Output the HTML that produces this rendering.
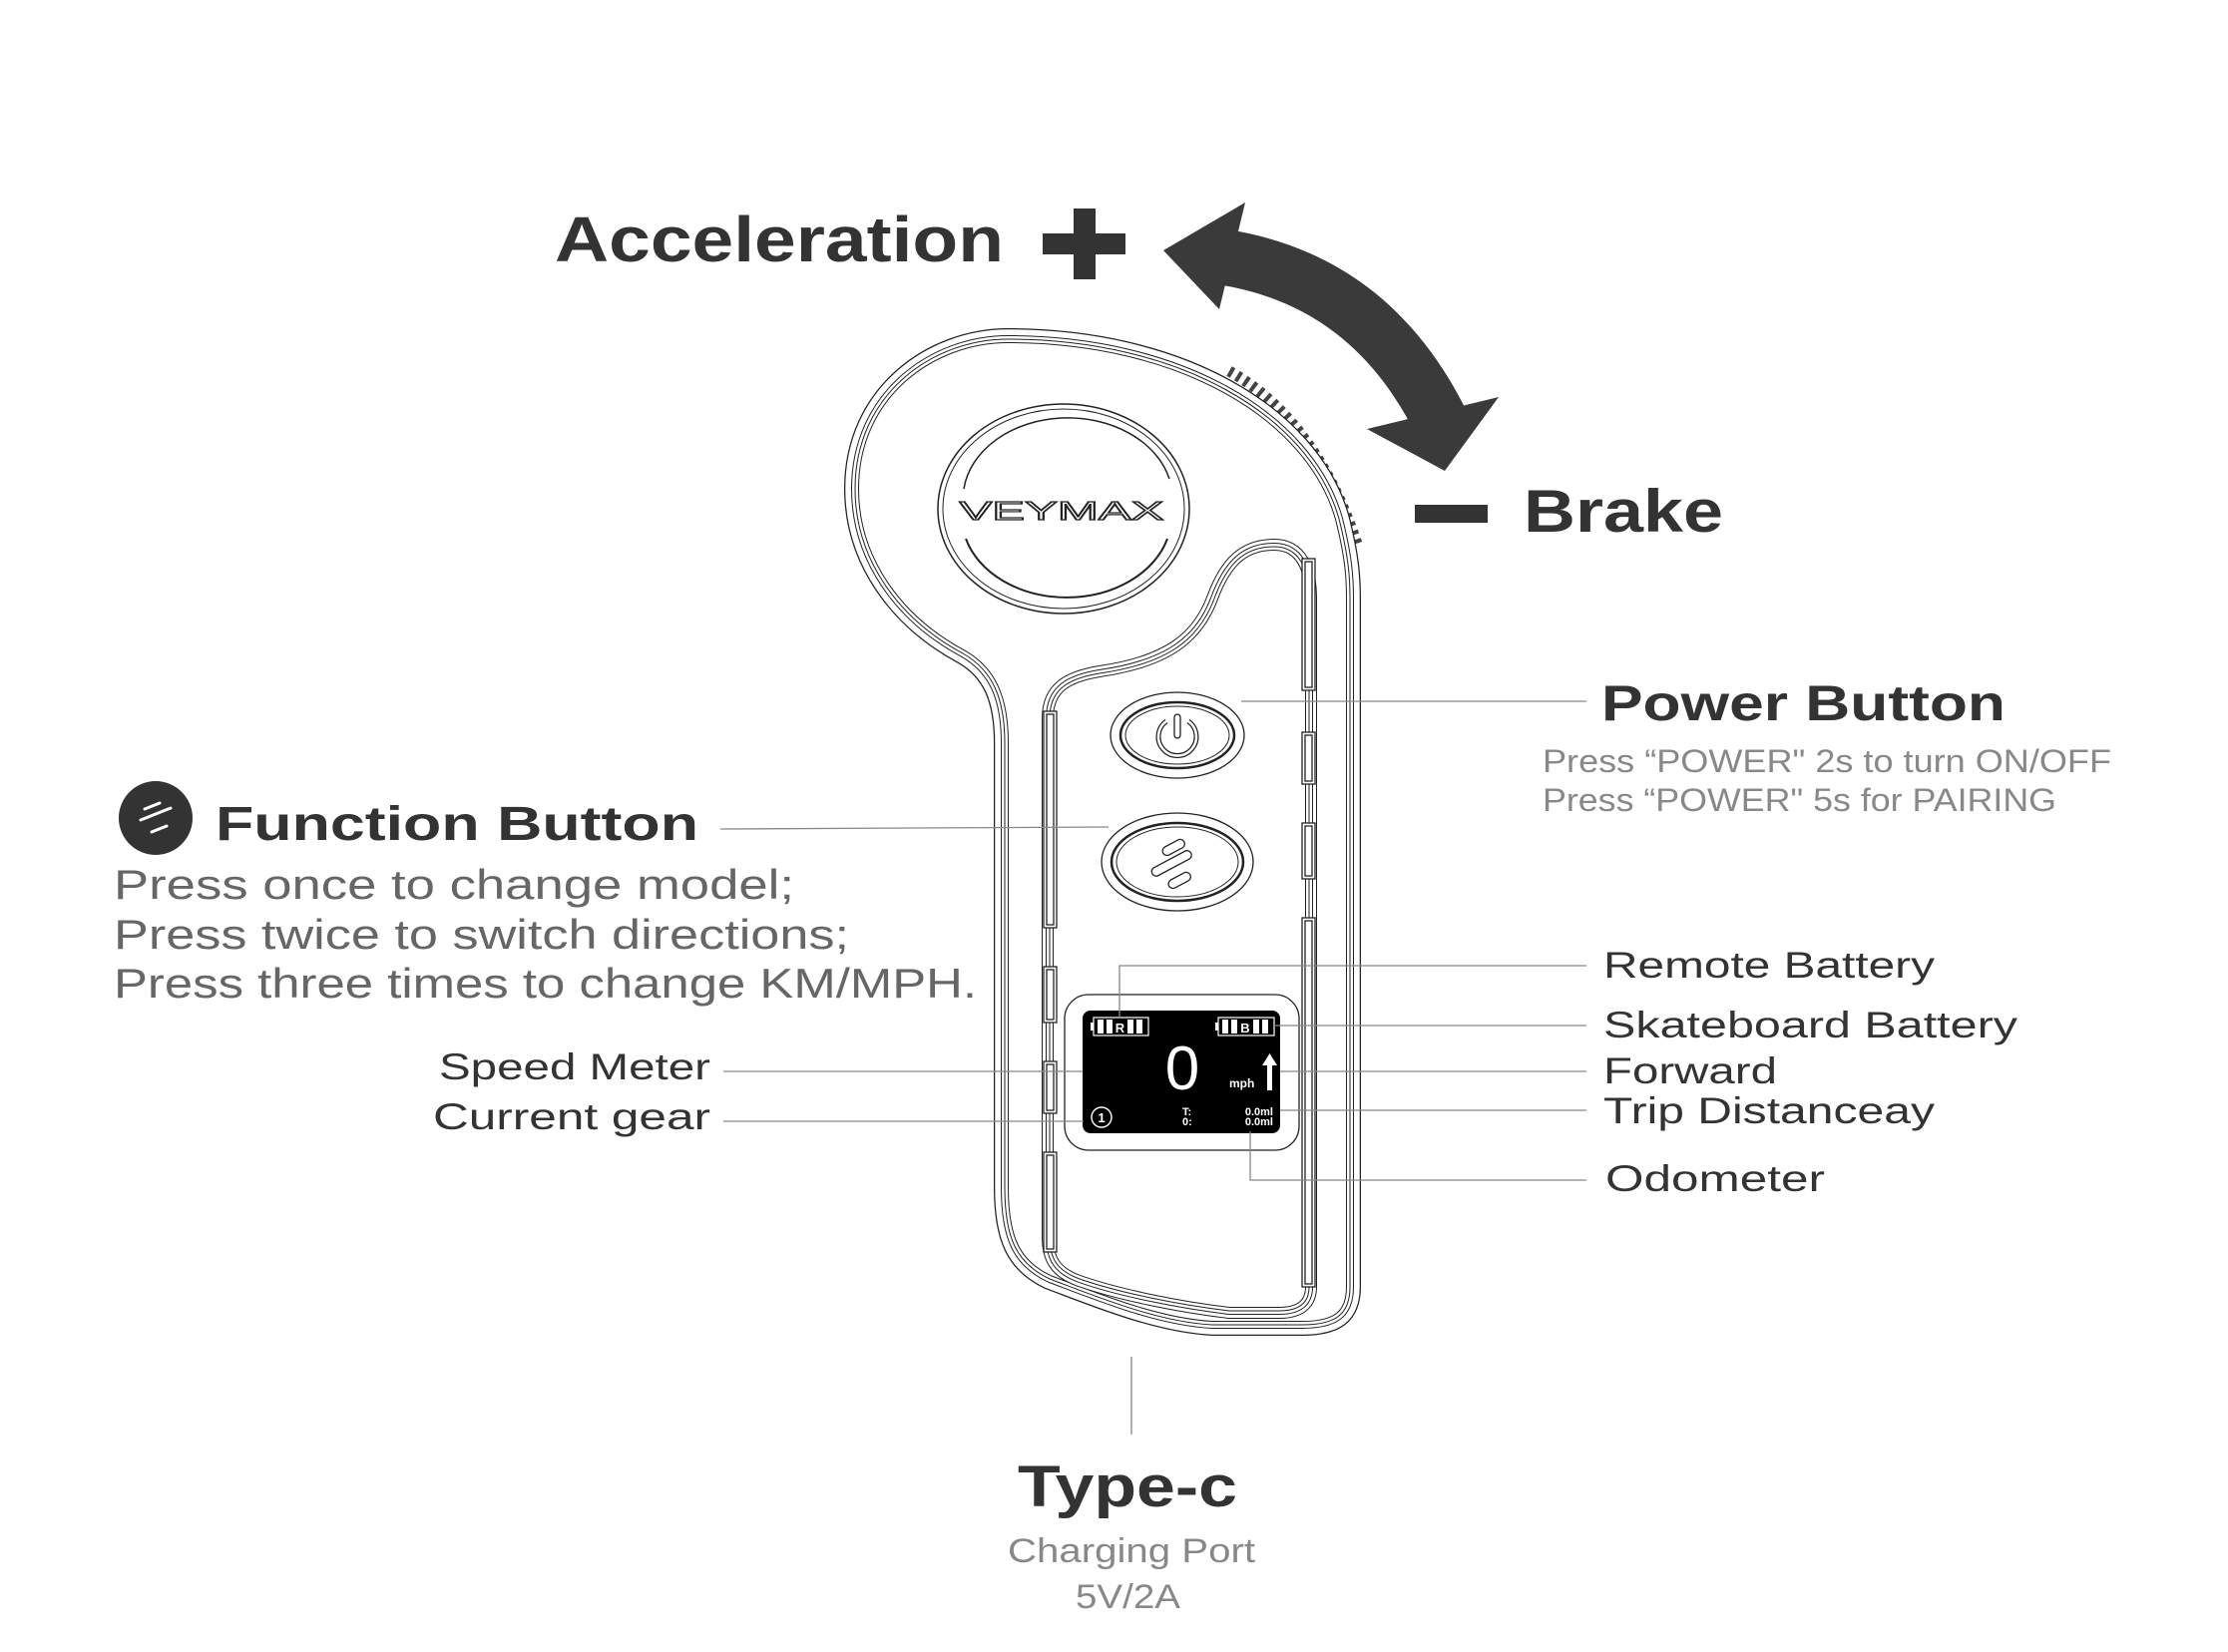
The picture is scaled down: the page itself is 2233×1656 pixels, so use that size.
<!DOCTYPE html>
<html><head><meta charset="utf-8"><style>
html,body{margin:0;padding:0;background:#fff;}
svg{display:block;}
text{font-family:"Liberation Sans",sans-serif;}
</style></head><body>
<svg width="2233" height="1656" xmlns="http://www.w3.org/2000/svg">
<rect width="2233" height="1656" fill="#fff"/>
<!-- Acceleration -->
<text x="556" y="262" font-size="64" font-weight="bold" fill="#333" textLength="450" lengthAdjust="spacingAndGlyphs">Acceleration</text>
<rect x="1045" y="234" width="83" height="21" fill="#333"/>
<rect x="1076" y="209" width="22" height="71" fill="#333"/>
<!-- curved arrow -->
<path d="M1228 258 Q1375 282 1445 425" fill="none" stroke="#3a3a3a" stroke-width="56"/>
<polygon points="1166,251 1248,203 1222,310" fill="#3a3a3a"/>
<polygon points="1448,472 1370,430 1502,398" fill="#3a3a3a"/>
<!-- Brake -->
<rect x="1418" y="506" width="73" height="18" fill="#333"/>
<text x="1527" y="533" font-size="60" font-weight="bold" fill="#333" textLength="200" lengthAdjust="spacingAndGlyphs">Brake</text>

<!-- knurl -->
<path d="M1232 372 Q1318 420 1360 545" fill="none" stroke="#444" stroke-width="11" stroke-dasharray="4 5"/>
<!-- device outline -->
<g fill="none">
<path d="M1010 340 C1180 340 1312 415 1342 520 C1352 560 1353 580 1353 600 L1353 1290 C1353 1318 1338 1328 1305 1328 L1215 1328 C1160 1325 1100 1300 1052 1282 C1018 1266 1007 1240 1007 1190 L1007 745 C1007 700 995 672 965 655 C900 620 857 560 857 490 C857 395 935 340 1010 340 Z" stroke="#222" stroke-width="22"/>
<path d="M1010 340 C1180 340 1312 415 1342 520 C1352 560 1353 580 1353 600 L1353 1290 C1353 1318 1338 1328 1305 1328 L1215 1328 C1160 1325 1100 1300 1052 1282 C1018 1266 1007 1240 1007 1190 L1007 745 C1007 700 995 672 965 655 C900 620 857 560 857 490 C857 395 935 340 1010 340 Z" stroke="#fff" stroke-width="19.5" fill="#fff"/>
<path d="M1010 340 C1180 340 1312 415 1342 520 C1352 560 1353 580 1353 600 L1353 1290 C1353 1318 1338 1328 1305 1328 L1215 1328 C1160 1325 1100 1300 1052 1282 C1018 1266 1007 1240 1007 1190 L1007 745 C1007 700 995 672 965 655 C900 620 857 560 857 490 C857 395 935 340 1010 340 Z" stroke="#222" stroke-width="8"/>
<path d="M1010 340 C1180 340 1312 415 1342 520 C1352 560 1353 580 1353 600 L1353 1290 C1353 1318 1338 1328 1305 1328 L1215 1328 C1160 1325 1100 1300 1052 1282 C1018 1266 1007 1240 1007 1190 L1007 745 C1007 700 995 672 965 655 C900 620 857 560 857 490 C857 395 935 340 1010 340 Z" stroke="#fff" stroke-width="6"/>
<path d="M1010 340 C1180 340 1312 415 1342 520 C1352 560 1353 580 1353 600 L1353 1290 C1353 1318 1338 1328 1305 1328 L1215 1328 C1160 1325 1100 1300 1052 1282 C1018 1266 1007 1240 1007 1190 L1007 745 C1007 700 995 672 965 655 C900 620 857 560 857 490 C857 395 935 340 1010 340 Z" stroke="#222" stroke-width="1"/>
<!-- channel -->
<path d="M1052 720 C1052 690 1072 680 1102 675 C1172 665 1202 640 1217 600 C1230 565 1247 548 1277 548 C1302 548 1312 570 1312 600 L1312 1290 C1312 1306 1302 1314 1282 1314 L1232 1314 C1182 1308 1122 1296 1082 1282 C1060 1274 1052 1262 1052 1240 Z" stroke="#222" stroke-width="16"/>
<path d="M1052 720 C1052 690 1072 680 1102 675 C1172 665 1202 640 1217 600 C1230 565 1247 548 1277 548 C1302 548 1312 570 1312 600 L1312 1290 C1312 1306 1302 1314 1282 1314 L1232 1314 C1182 1308 1122 1296 1082 1282 C1060 1274 1052 1262 1052 1240 Z" stroke="#fff" stroke-width="14" fill="#fff"/>
<path d="M1052 720 C1052 690 1072 680 1102 675 C1172 665 1202 640 1217 600 C1230 565 1247 548 1277 548 C1302 548 1312 570 1312 600 L1312 1290 C1312 1306 1302 1314 1282 1314 L1232 1314 C1182 1308 1122 1296 1082 1282 C1060 1274 1052 1262 1052 1240 Z" stroke="#222" stroke-width="8"/>
<path d="M1052 720 C1052 690 1072 680 1102 675 C1172 665 1202 640 1217 600 C1230 565 1247 548 1277 548 C1302 548 1312 570 1312 600 L1312 1290 C1312 1306 1302 1314 1282 1314 L1232 1314 C1182 1308 1122 1296 1082 1282 C1060 1274 1052 1262 1052 1240 Z" stroke="#fff" stroke-width="6"/>
<path d="M1052 720 C1052 690 1072 680 1102 675 C1172 665 1202 640 1217 600 C1230 565 1247 548 1277 548 C1302 548 1312 570 1312 600 L1312 1290 C1312 1306 1302 1314 1282 1314 L1232 1314 C1182 1308 1122 1296 1082 1282 C1060 1274 1052 1262 1052 1240 Z" stroke="#222" stroke-width="1"/>
</g>
<!-- slots -->
<g fill="#fff" stroke="#222" stroke-width="1.3">
<rect x="1305" y="560" width="13" height="132"/><rect x="1308" y="563" width="7" height="126"/>
<rect x="1305" y="734" width="13" height="52"/><rect x="1308" y="737" width="7" height="46"/>
<rect x="1305" y="825" width="13" height="56"/><rect x="1308" y="828" width="7" height="50"/>
<rect x="1305" y="920" width="13" height="370"/><rect x="1308" y="923" width="7" height="364"/>
<rect x="1046" y="713" width="13" height="217"/><rect x="1049" y="716" width="7" height="211"/>
<rect x="1046" y="969" width="13" height="56"/><rect x="1049" y="972" width="7" height="50"/>
<rect x="1046" y="1064" width="13" height="52"/><rect x="1049" y="1067" width="7" height="46"/>
<rect x="1046" y="1155" width="13" height="100"/><rect x="1049" y="1158" width="7" height="94"/>
</g>
<!-- logo -->
<ellipse cx="1066" cy="510" rx="126" ry="105" fill="#fff" stroke="#222" stroke-width="1.5"/>
<ellipse cx="1066" cy="510" rx="121" ry="100" fill="none" stroke="#222" stroke-width="1"/>
<path d="M1172 480 A105 81 0 0 0 966 490" fill="none" stroke="#222" stroke-width="1.5"/>
<path d="M968 540 A105 81 0 0 0 1170 540" fill="none" stroke="#222" stroke-width="2"/>
<text x="1064" y="521" font-size="26" text-anchor="middle" fill="#fff" stroke="#222" stroke-width="1.2" textLength="205" lengthAdjust="spacingAndGlyphs">VEYMAX</text>
<!-- power button -->
<ellipse cx="1180" cy="737" rx="67" ry="43" fill="#fff" stroke="#222" stroke-width="1.3"/>
<ellipse cx="1180" cy="737" rx="57" ry="33" fill="none" stroke="#222" stroke-width="2.5"/>
<ellipse cx="1180" cy="737" rx="52" ry="29" fill="none" stroke="#222" stroke-width="1"/>
<path d="M1169 723 A19 19 0 1 0 1191 723" fill="none" stroke="#222" stroke-width="5"/>
<path d="M1169 723 A19 19 0 1 0 1191 723" fill="none" stroke="#fff" stroke-width="2.5"/>
<rect x="1177" y="716" width="6" height="24" rx="3" fill="#fff" stroke="#222" stroke-width="1.3"/>
<!-- function button -->
<ellipse cx="1180" cy="864" rx="76" ry="49" fill="#fff" stroke="#222" stroke-width="1.3"/>
<ellipse cx="1180" cy="864" rx="66" ry="39" fill="none" stroke="#222" stroke-width="2.5"/>
<ellipse cx="1180" cy="864" rx="61" ry="35" fill="none" stroke="#222" stroke-width="1"/>
<g fill="#fff" stroke="#222" stroke-width="1.3">
<rect x="1164" y="845" width="24" height="9" rx="4.5" transform="rotate(-28 1176 849)"/>
<rect x="1152" y="861" width="44" height="9" rx="4.5" transform="rotate(-28 1174 865)"/>
<rect x="1170" y="878" width="24" height="9" rx="4.5" transform="rotate(-28 1182 882)"/>
</g>
<!-- screen -->
<rect x="1067" y="997" width="235" height="156" rx="24" fill="#fff" stroke="#222" stroke-width="1.3"/>
<rect x="1085" y="1013" width="198" height="123" rx="8" fill="#000"/>
<g fill="none" stroke="#fff" stroke-width="1.2">
<rect x="1096" y="1020" width="55" height="18"/>
<rect x="1221" y="1020" width="56" height="18"/>
</g>
<g fill="#fff">
<rect x="1093" y="1025" width="3" height="8"/><rect x="1218" y="1025" width="3" height="8"/>
<rect x="1100" y="1022" width="6" height="14"/><rect x="1109" y="1022" width="6" height="14"/><rect x="1130" y="1022" width="6" height="14"/><rect x="1139" y="1022" width="6" height="14"/>
<rect x="1225" y="1022" width="6" height="14"/><rect x="1234" y="1022" width="6" height="14"/><rect x="1256" y="1022" width="6" height="14"/><rect x="1265" y="1022" width="6" height="14"/>
</g>
<text x="1122.5" y="1035" font-size="13" font-weight="bold" fill="#fff" text-anchor="middle">R</text>
<text x="1248" y="1035" font-size="13" font-weight="bold" fill="#fff" text-anchor="middle">B</text>
<text x="1185" y="1092" font-size="62" fill="#fff" text-anchor="middle">0</text>
<text x="1232" y="1090" font-size="12" font-weight="bold" fill="#fff">mph</text>
<rect x="1270" y="1066" width="5" height="27" fill="#fff"/>
<polygon points="1272.5,1056 1265,1068 1280,1068" fill="#fff"/>
<circle cx="1104" cy="1120" r="10" fill="none" stroke="#fff" stroke-width="1.4"/>
<text x="1104" y="1125" font-size="13" font-weight="bold" fill="#fff" text-anchor="middle">1</text>
<text x="1185" y="1118" font-size="11" font-weight="bold" fill="#fff">T:</text>
<text x="1185" y="1128" font-size="11" font-weight="bold" fill="#fff">0:</text>
<text x="1276" y="1118" font-size="11" font-weight="bold" fill="#fff" text-anchor="end">0.0ml</text>
<text x="1276" y="1128" font-size="11" font-weight="bold" fill="#fff" text-anchor="end">0.0ml</text>

<!-- leader lines -->
<g stroke="#888" stroke-width="1.3" fill="none">
<path d="M1244 703 L1590 703"/>
<path d="M1122 1020 L1122 968 L1590 968"/>
<path d="M1277 1028 L1590 1028"/>
<path d="M1283 1074 L1590 1074"/>
<path d="M1283 1113 L1590 1113"/>
<path d="M1253 1134 L1253 1183 L1590 1183"/>
<path d="M722 831 L1111 829"/>
<path d="M725 1074 L1085 1074"/>
<path d="M725 1124 L1086 1124"/>
<path d="M1134 1360 L1134 1438"/>
</g>

<!-- right labels -->
<text x="1605" y="722" font-size="50" font-weight="bold" fill="#333" textLength="405" lengthAdjust="spacingAndGlyphs">Power Button</text>
<text x="1546" y="774" font-size="32" fill="#888" textLength="570" lengthAdjust="spacingAndGlyphs">Press “POWER" 2s to turn ON/OFF</text>
<text x="1546" y="813" font-size="32" fill="#888" textLength="515" lengthAdjust="spacingAndGlyphs">Press “POWER" 5s for PAIRING</text>
<g font-size="37" fill="#333">
<text x="1607" y="980" textLength="332" lengthAdjust="spacingAndGlyphs">Remote Battery</text>
<text x="1607" y="1040" textLength="415" lengthAdjust="spacingAndGlyphs">Skateboard Battery</text>
<text x="1607" y="1086" textLength="174" lengthAdjust="spacingAndGlyphs">Forward</text>
<text x="1607" y="1126" textLength="332" lengthAdjust="spacingAndGlyphs">Trip Distanceay</text>
<text x="1609" y="1194" textLength="220" lengthAdjust="spacingAndGlyphs">Odometer</text>
<text x="440" y="1082" textLength="272" lengthAdjust="spacingAndGlyphs">Speed Meter</text>
<text x="434" y="1132" textLength="278" lengthAdjust="spacingAndGlyphs">Current gear</text>
</g>

<!-- function button label -->
<circle cx="156" cy="820" r="37" fill="#333"/>
<g stroke="#fff" stroke-width="3" stroke-linecap="round">
<line x1="145" y1="811" x2="160" y2="805"/>
<line x1="141" y1="822" x2="171" y2="810"/>
<line x1="152" y1="834" x2="167" y2="828"/>
</g>
<text x="216" y="842" font-size="48" font-weight="bold" fill="#333" textLength="484" lengthAdjust="spacingAndGlyphs">Function Button</text>
<g font-size="42" fill="#666">
<text x="114" y="901" textLength="682" lengthAdjust="spacingAndGlyphs">Press once to change model;</text>
<text x="114" y="951" textLength="737" lengthAdjust="spacingAndGlyphs">Press twice to switch directions;</text>
<text x="114" y="1000" textLength="865" lengthAdjust="spacingAndGlyphs">Press three times to change KM/MPH.</text>
</g>

<!-- Type-c -->
<text x="1020" y="1510" font-size="58" font-weight="bold" fill="#333" textLength="220" lengthAdjust="spacingAndGlyphs">Type-c</text>
<text x="1010" y="1566" font-size="34" fill="#888" textLength="248" lengthAdjust="spacingAndGlyphs">Charging Port</text>
<text x="1078" y="1612" font-size="34" fill="#888" textLength="105" lengthAdjust="spacingAndGlyphs">5V/2A</text>
</svg>
</body></html>
